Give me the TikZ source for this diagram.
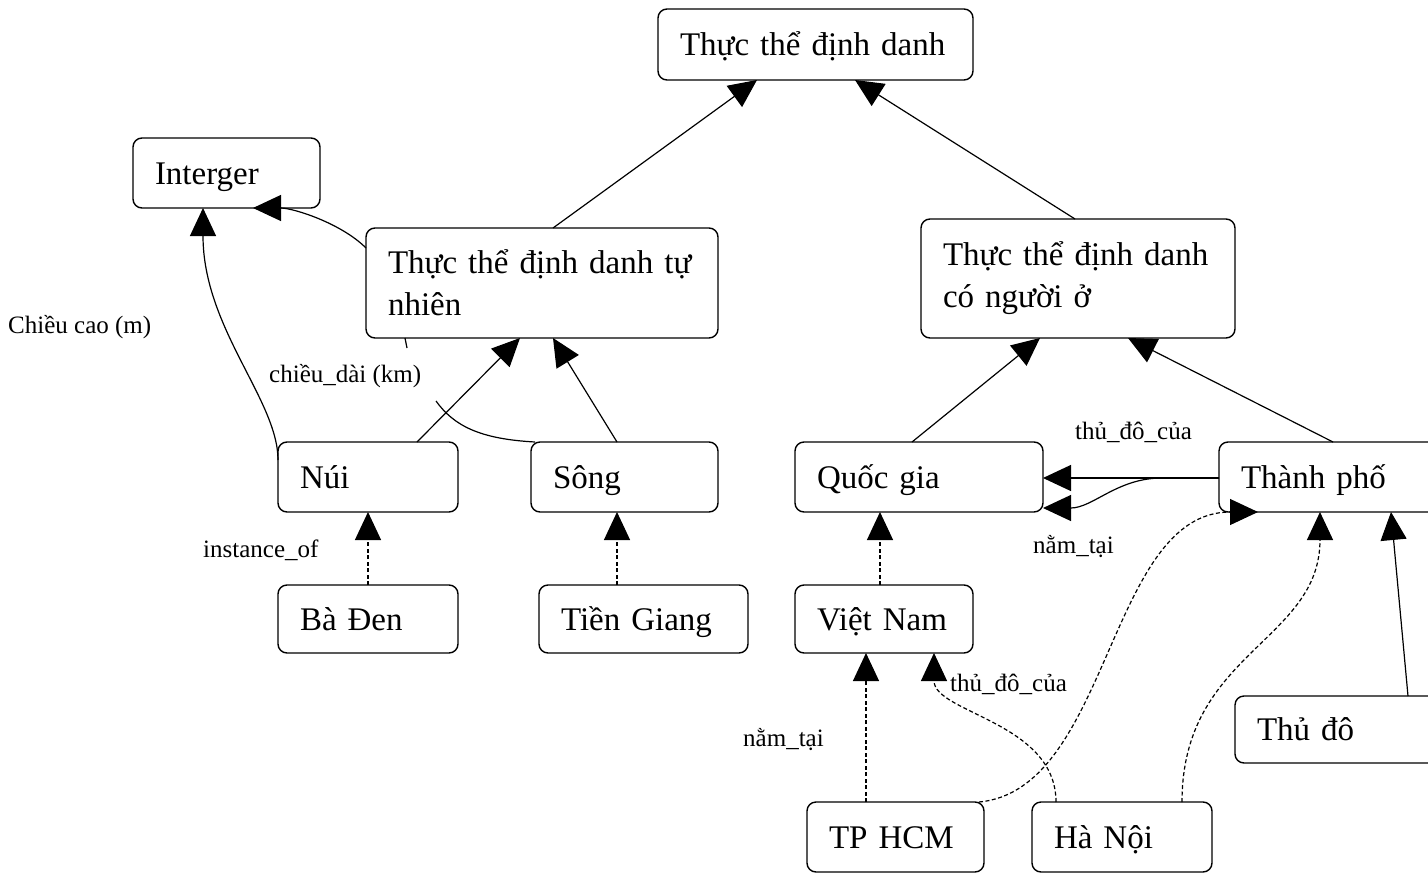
\documentclass[tikz,border=0pt]{standalone}
\usepackage{fontspec}
\setmainfont{Liberation Serif}
\usetikzlibrary{arrows.meta}
\newcommand\bigf{\fontsize{33}{42}\selectfont}
\newcommand\smallf{\fontsize{25}{29}\selectfont}
\begin{document}
\begin{tikzpicture}[x=1pt,y=-1pt,
  box/.style={draw, rounded corners=9pt, line width=1.4pt, inner xsep=22pt, inner ysep=0pt, outer sep=0pt, align=left, font=\bigf},
  one/.style={text height=22pt, text depth=0pt},
  lbl/.style={font=\smallf, inner sep=0pt, anchor=west},
  plain/.style={line width=1.2pt},
  conn/.style={line width=1.2pt, -{Triangle[length=28pt,width=26pt]}},
  dconn/.style={conn, dash pattern=on 4pt off 2.5pt}
]
\clip (0,0) rectangle (1428,873);
\fill[white] (0,0) rectangle (1428,873);

% boxes
\node[box, one, text width=271pt, minimum height=71pt] (top) at (815.5,44.5) {Thực thể định danh};
\node[box, one, text width=143pt, minimum height=70pt] (int) at (226.5,173) {Interger};
\node[box, text width=308pt, minimum height=110pt] (tn) at (542,283) {Thực thể định danh tự\\nhiên};
\node[box, text width=270pt, minimum height=119pt] (cn) at (1078,278.5) {Thực thể định danh\\có người ở};
\node[box, one, text width=136pt, minimum height=70pt] (nui) at (368,477) {Núi};
\node[box, one, text width=143pt, minimum height=70pt] (song) at (624.5,477) {Sông};
\node[box, one, text width=204pt, minimum height=70pt] (qg) at (919,477) {Quốc gia};
\node[box, one, text width=197pt, minimum height=70pt] (tp) at (1339.5,477) {Thành phố};
\node[box, one, text width=136pt, minimum height=68pt] (bd) at (368,619) {Bà Đen};
\node[box, one, text width=165pt, minimum height=68pt] (tg) at (643.5,619) {Tiền Giang};
\node[box, one, text width=134pt, minimum height=68pt] (vn) at (884,619) {Việt Nam};
\node[box, one, text width=181pt, minimum height=67pt] (td) at (1347.5,729.5) {Thủ đô};
\node[box, one, text width=133pt, minimum height=70pt] (hcm) at (895.5,837) {TP HCM};
\node[box, one, text width=136pt, minimum height=70pt] (hn) at (1122,837) {Hà Nội};

% solid generalisation arrows
\draw[conn] ([xshift=187pt]tn.north west) -- ([xshift=99pt]top.south west);
\draw[conn] ([xshift=154pt]cn.north west) -- ([xshift=197pt]top.south west);
\draw[conn] ([xshift=139pt]nui.north west) -- ([xshift=154pt]tn.south west);
\draw[conn] ([xshift=86pt]song.north west) -- ([xshift=187pt]tn.south west);
\draw[conn] ([xshift=117pt]qg.north west) -- ([xshift=119pt]cn.south west);
\draw[conn] ([xshift=114pt]tp.north west) -- ([xshift=207pt]cn.south west);
\draw[conn] ([xshift=173pt]td.north west) -- ([xshift=172pt]tp.south west);

% attribute arrows to Interger
\draw[conn] ([yshift=-20pt]tn.north west) .. controls +(-25,-25) and +(40,0) .. ([xshift=120pt]int.south west);
\draw[conn] ([yshift=-18pt]nui.north west) .. controls +(0,-60) and +(0,120) .. ([xshift=70pt]int.south west);

% chieu_dai line (broken)
\coordinate (cdend) at (436,401);
\draw[plain] ([xshift=4pt]song.north west) .. controls +(-55,-3) and +(18,25) .. (cdend);
\draw[plain] ([xshift=39pt]tn.south west) -- +(2,10);

% relations between Thanh pho and Quoc gia
\draw[conn] ([yshift=-36pt]tp.north west) -- ([yshift=-36pt]qg.north east);
\draw[conn] ([yshift=-36pt]tp.north west) -- ++(-57,0) .. controls +(-45,0) and +(50,0) .. ([yshift=-66pt]qg.north east);

% dashed arrows
\draw[dconn] (bd.north) -- (nui.south);
\draw[dconn] ([xshift=78pt]tg.north west) -- ([xshift=86pt]song.south west);
\draw[dconn] ([xshift=85pt]vn.north west) -- ([xshift=85pt]qg.south west);
\draw[dconn] ([xshift=59pt]hcm.north west) -- ([xshift=71pt]vn.south west);
\draw[dconn] ([xshift=24pt]hn.north west) .. controls +(0,-80) and +(0,60) .. ([xshift=139pt]vn.south west);
\draw[dconn] ([xshift=-5pt]hcm.north east) .. controls +(131,-12) and +(-150,0) .. ([xshift=39pt]tp.south west);
\draw[dconn] ([xshift=150pt]hn.north west) .. controls +(0,-150) and +(0,130) .. ([xshift=101pt]tp.south west);

% labels
\node[lbl] (lcc) at (8,327) {Chiều cao (m)};
\node[lbl] (lcd) at (269,376) {chiều\_dài (km)};
\node[lbl] (lio) at (203,550) {instance\_of};
\node[lbl] (ltd1) at (1075,432) {thủ\_đô\_của};
\node[lbl] (lnt1) at (1033,547) {nằm\_tại};
\node[lbl] (lnt2) at (743,740) {nằm\_tại};
\node[lbl] (ltd2) at (950,684) {thủ\_đô\_của};
\end{tikzpicture}
\end{document}
